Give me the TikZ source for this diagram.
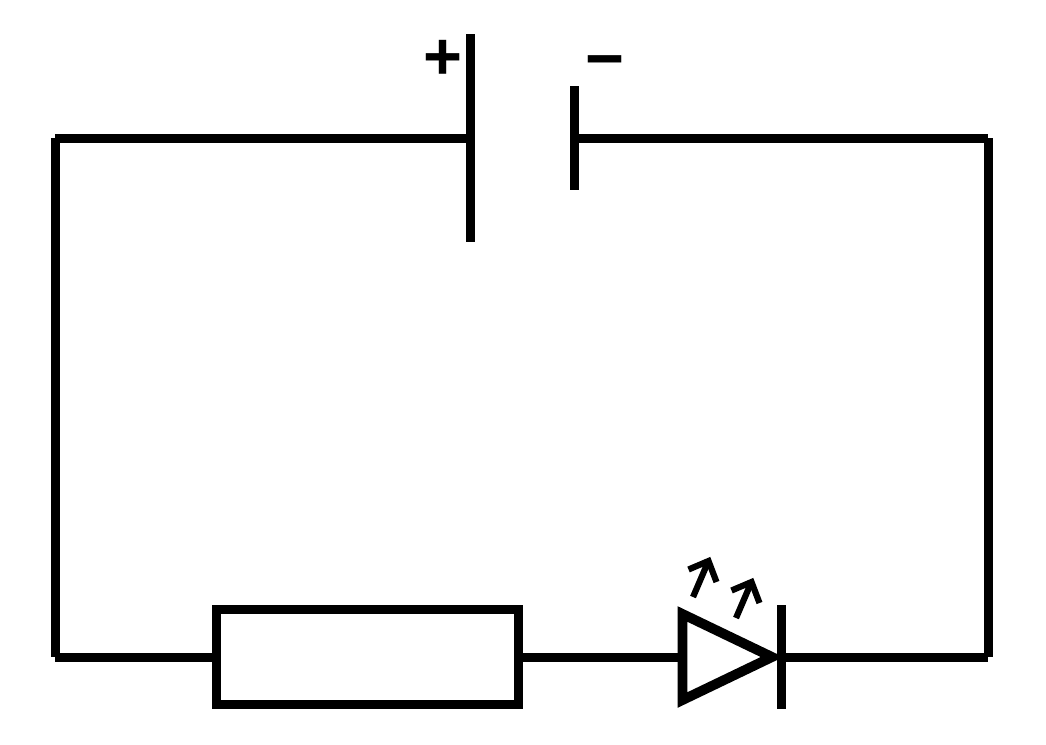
\documentclass[tikz,border=0pt]{standalone}
\usepackage{fontspec}
\setmainfont{Liberation Sans}
\tikzset{
    wire/.style={line width=0.09cm},
    ledline/.style={line width=0.098cm, miter limit=10},
    ray/.style={line width=0.062cm, miter limit=10},
    sign/.style={font=\fontsize{19}{19}\selectfont\bfseries, inner sep=0pt},
    resistor/.style={draw, line width=0.09cm, fill=white, outer sep=0pt, inner sep=0pt, minimum width=3.02cm, minimum height=0.955cm}
}

\begin{document}
\begin{tikzpicture}
        \useasboundingbox (0, 0) rectangle (10.46, 7.44);

        % corners of the loop
        \coordinate (tl) at (0.55, 6.06);
        \coordinate (tr) at (9.88, 6.06);
        \coordinate (bl) at (0.55, 0.87);
        \coordinate (br) at (9.88, 0.87);

        % battery
        \coordinate (plusTop) at (4.70, 7.095);
        \coordinate (plusMid) at (4.70, 6.06);
        \coordinate (plusBot) at (4.70, 5.02);
        \coordinate (minusTop) at (5.74, 6.58);
        \coordinate (minusMid) at (5.74, 6.06);
        \coordinate (minusBot) at (5.74, 5.54);

        % led
        \coordinate (ledTop) at (6.825, 7.44-6.14);
        \coordinate (ledMid) at (6.825, 0.87);
        \coordinate (ledBot) at (6.825, 7.44-7.00);
        \coordinate (ledTip) at (7.72, 0.87);
        \coordinate (barTop) at (7.81, 7.44-6.05);
        \coordinate (barMid) at (7.81, 0.87);
        \coordinate (barBot) at (7.81, 7.44-7.09);

        \node[resistor] (res) at (3.675, 0.87) {};

        \draw[wire] (tl) -- (bl);
        \draw[wire] (tr) -- (br);
        \draw[wire] (tl) -- (plusMid);
        \draw[wire] (minusMid) -- (tr);
        \draw[wire] (bl) -- (res.west);
        \draw[wire] (res.east) -- (ledMid);
        \draw[wire] (barMid) -- (br);

        \draw[wire] (plusTop) -- (plusBot);
        \draw[wire] (minusTop) -- (minusBot);

        \draw[ledline, fill=white] (ledTop) -- (ledTip) -- (ledBot) -- cycle;
        \draw[wire] (barTop) -- (barBot);

        \draw[ray] (6.93, 7.44-5.97) -- (7.08, 7.44-5.62);
        \draw[ray] (6.885, 7.44-5.695) -- (7.085, 7.44-5.61) -- (7.165, 7.44-5.82);
        \draw[ray] (7.36, 7.44-6.18) -- (7.51, 7.44-5.83);
        \draw[ray] (7.315, 7.44-5.905) -- (7.515, 7.44-5.82) -- (7.595, 7.44-6.03);

        \node[sign] (plus) at (4.433, 6.84) {+};
        \node[sign] (minus) at (6.045, 6.755) {−};
\end{tikzpicture}
\end{document}
